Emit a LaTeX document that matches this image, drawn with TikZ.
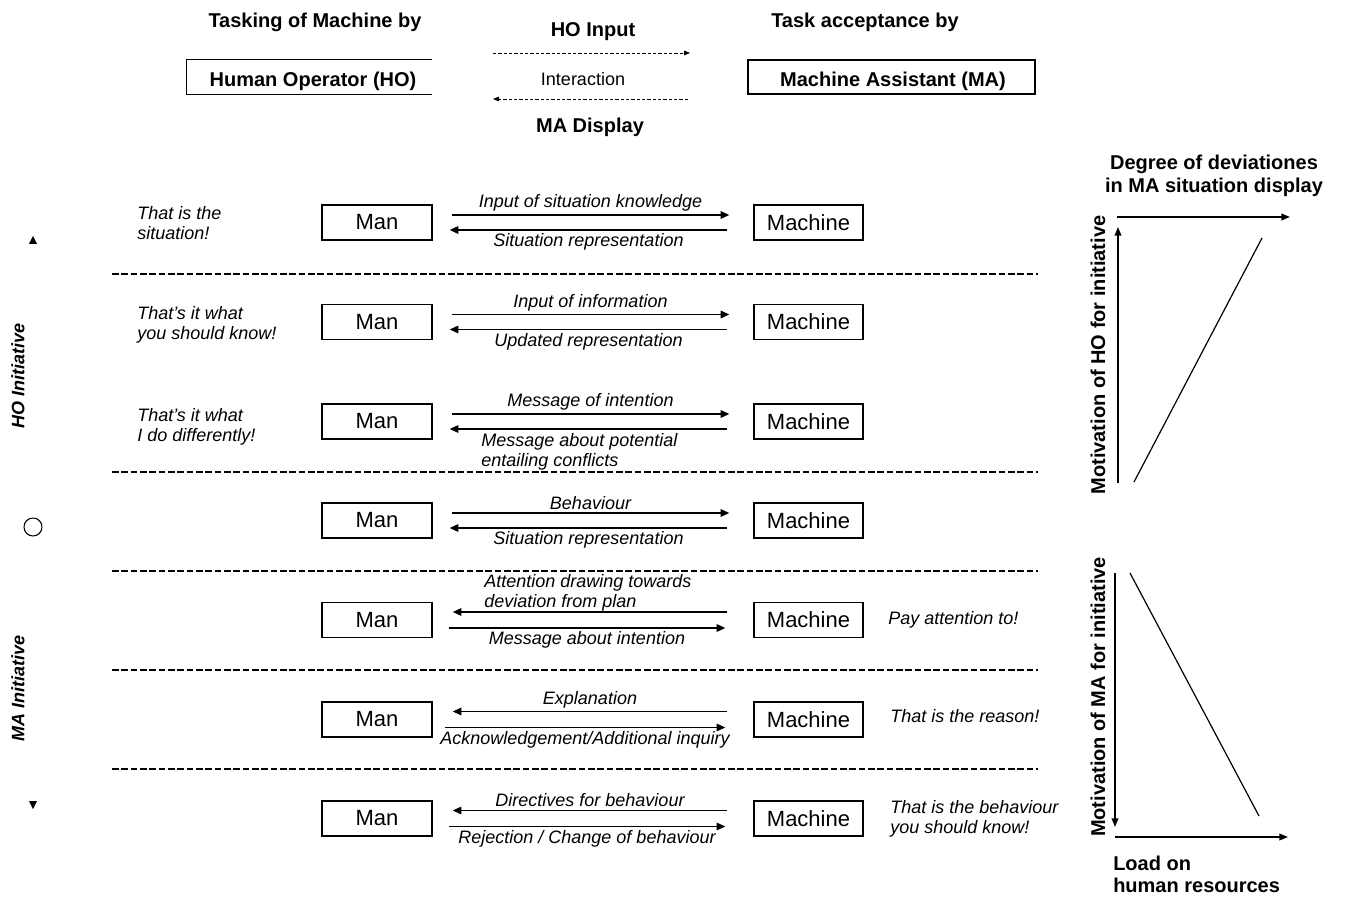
\documentclass[tikz,border=0pt]{standalone}
\usepackage{fontspec}
\setmainfont{Liberation Sans}
\usetikzlibrary{arrows.meta,calc}
\begin{document}
\tikzset{
  hdr/.style={font=\fontsize{15}{17.25}\selectfont\bfseries},
  lab/.style={font=\fontsize{13.5}{15.5}\selectfont\itshape},
  plain/.style={font=\fontsize{13.5}{15.5}\selectfont},
  sidelab/.style={font=\fontsize{13.5}{15}\selectfont\bfseries\itshape, rotate=90},
  manbox/.style={draw, line width=0.9pt, minimum width=82.5pt, minimum height=26.25pt, inner sep=0pt, font=\fontsize{16.5}{18}\selectfont},
  machbox/.style={draw, line width=0.9pt, minimum width=81.75pt, minimum height=26.25pt, inner sep=0pt, font=\fontsize{16.5}{18}\selectfont},
  arr/.style={line width=1.3pt, -{Triangle[length=6.5pt,width=5.5pt]}},
  sepline/.style={line width=0.8pt, dash pattern=on 5pt off 2pt},
  hdarr/.style={line width=0.6pt, dash pattern=on 2.5pt off 1.5pt, -{Triangle[length=4.5pt,width=3.5pt]}},
  axis/.style={line width=1.2pt, -{Triangle[length=6.5pt,width=5pt]}},
  trend/.style={line width=0.9pt},
}
\begin{tikzpicture}[x=0.75pt,y=-0.75pt]
\useasboundingbox (0,0) rectangle (1346,898);

% ---------- header ----------
\node[hdr] (t1) at (315,22) {Tasking of Machine by};
\node[hdr] (t2) at (593,32) {HO Input};
\node[plain] (t3) at (583,79) {Interaction};
\node[hdr] (t4) at (590,127) {MA Display};
\node[hdr] (t5) at (865,22) {Task acceptance by};

\node[minimum width=183.75pt, minimum height=25.5pt, inner sep=0pt] (hobox) at (309.5,77) {};
\draw[line width=0.9pt] (hobox.north east) -- (hobox.north west) -- (hobox.south west) -- (hobox.south east);
\node[hdr] (hotext) at (313,81) {Human Operator (HO)};

\node[draw, line width=0.9pt, minimum width=215.25pt, minimum height=25.5pt, inner sep=0pt] (mabox) at (891.5,77) {};
\node[hdr] (matext) at (893,81) {Machine Assistant (MA)};

\coordinate (ha1) at (493,53);
\coordinate (ha2) at (690,53);
\coordinate (hb1) at (688,99);
\coordinate (hb2) at (493,99);
\draw[hdarr] (ha1) -- (ha2);
\draw[hdarr] (hb1) -- (hb2);

% ---------- left axis ----------
\fill (29,244) -- (37,244) -- (33,236) -- cycle;
\fill (29,801) -- (37,801) -- (33,809) -- cycle;
\node[sidelab] (hoi) at (18,376) {HO Initiative};
\node[sidelab] (mai) at (18,688) {MA Initiative};
\node[draw, circle, line width=0.8pt, minimum size=13.5pt, inner sep=0pt] (zero) at (33,527) {};

% ---------- separators ----------
\foreach \yy in {274,472,571,670,769} {
  \draw[sepline] (112,\yy) -- (1038,\yy);
}

% ---------- rows ----------
% row 1
\node[manbox] (m1) at (377,222.5) {Man};
\node[machbox] (k1) at (808.5,222.5) {Machine};
\draw[arr] ($(m1.east)+(19,-7.5)$) -- node[lab, above, inner sep=2pt] (l1a) {Input of situation knowledge} ($(k1.west)+(-24,-7.5)$);
\draw[arr] ($(k1.west)+(-26,7.5)$) -- node[lab, below, inner sep=2pt] (l1b) {Situation representation} ($(m1.east)+(17,7.5)$);
\node[lab, anchor=north west, align=left, inner sep=0pt] (s1) at (137,206) {That is the\\situation!};

% row 2
\node[manbox] (m2) at (377,322) {Man};
\node[machbox] (k2) at (808.5,322) {Machine};
\draw[arr] ($(m2.east)+(19,-7.5)$) -- node[lab, above, inner sep=2pt] (l2a) {Input of information} ($(k2.west)+(-24,-7.5)$);
\draw[arr] ($(k2.west)+(-26,7.5)$) -- node[lab, below, inner sep=2pt] (l2b) {Updated representation} ($(m2.east)+(17,7.5)$);
\node[lab, anchor=north west, align=left, inner sep=0pt] (s2) at (137,306) {That's it what\\you should know!};

% row 3
\node[manbox] (m3) at (377,421.5) {Man};
\node[machbox] (k3) at (808.5,421.5) {Machine};
\draw[arr] ($(m3.east)+(19,-7.5)$) -- node[lab, above, inner sep=2pt] (l3a) {Message of intention} ($(k3.west)+(-24,-7.5)$);
\draw[arr] ($(k3.west)+(-26,7.5)$) -- ($(m3.east)+(17,7.5)$);
\node[lab, anchor=north west, align=left, inner sep=0pt] (l3b) at (481,433) {Message about potential\\entailing conflicts};
\node[lab, anchor=north west, align=left, inner sep=0pt] (s3) at (137,408) {That's it what\\I do differently!};

% row 4
\node[manbox] (m4) at (377,520.5) {Man};
\node[machbox] (k4) at (808.5,520.5) {Machine};
\draw[arr] ($(m4.east)+(19,-7.5)$) -- node[lab, above, inner sep=2pt] (l4a) {Behaviour} ($(k4.west)+(-24,-7.5)$);
\draw[arr] ($(k4.west)+(-26,7.5)$) -- node[lab, below, inner sep=2pt] (l4b) {Situation representation} ($(m4.east)+(17,7.5)$);

% row 5
\node[manbox] (m5) at (377,620) {Man};
\node[machbox] (k5) at (808.5,620) {Machine};
\draw[arr] ($(k5.west)+(-26,-8)$) -- ($(m5.east)+(20,-8)$);
\draw[arr] ($(m5.east)+(16,8)$) -- node[lab, below, inner sep=2pt] (l5b) {Message about intention} ($(k5.west)+(-28,8)$);
\node[lab, anchor=north west, align=left, inner sep=0pt] (l5a) at (484,574) {Attention drawing towards\\deviation from plan};
\node[lab, anchor=west, inner sep=0pt] (r5) at (888,620) {Pay attention to!};

% row 6
\node[manbox] (m6) at (377,719.5) {Man};
\node[machbox] (k6) at (808.5,719.5) {Machine};
\draw[arr] ($(k6.west)+(-26,-8)$) -- node[lab, above, inner sep=2pt] (l6a) {Explanation} ($(m6.east)+(20,-8)$);
\draw[arr] ($(m6.east)+(12,8)$) -- node[lab, below, inner sep=2pt] (l6b) {Acknowledgement/Additional inquiry} ($(k6.west)+(-28,8)$);
\node[lab, anchor=west, inner sep=0pt] (r6) at (890,716) {That is the reason!};

% row 7
\node[manbox] (m7) at (377,818.5) {Man};
\node[machbox] (k7) at (808.5,818.5) {Machine};
\draw[arr] ($(k7.west)+(-26,-8)$) -- node[lab, above, inner sep=2pt] (l7a) {Directives for behaviour} ($(m7.east)+(20,-8)$);
\draw[arr] ($(m7.east)+(16,8)$) -- node[lab, below, inner sep=2pt] (l7b) {Rejection / Change of behaviour} ($(k7.west)+(-28,8)$);
\node[lab, anchor=north west, align=left, inner sep=0pt] (r7) at (890,800) {That is the behaviour\\you should know!};

% ---------- right graphs ----------
\node[hdr, align=center] (g1t) at (1214,176) {Degree of deviationes\\in MA situation display};
\coordinate (o1) at (1118,483);
\coordinate (y1) at (1118,227);
\coordinate (x0) at (1117,217);
\coordinate (x1) at (1290,217);
\draw[axis] (o1) -- (y1);
\draw[axis] (x0) -- (x1);
\draw[trend] (1134,482) -- (1262,238);
\node[hdr, rotate=90] (g1y) at (1098,355) {Motivation of HO for initiative};

\coordinate (o2) at (1115,573);
\coordinate (y2) at (1115,827);
\coordinate (x2) at (1115,837);
\coordinate (x3) at (1288,837);
\draw[axis] (o2) -- (y2);
\draw[axis] (x2) -- (x3);
\draw[trend] (1130,573) -- (1259,816);
\node[hdr, rotate=90] (g2y) at (1098,697) {Motivation of MA for initiative};
\node[hdr, align=left, anchor=north west, inner sep=0pt, font=\fontsize{15}{16}\selectfont\bfseries] (g2x) at (1113,856) {Load on\\human resources};
\end{tikzpicture}
\end{document}
